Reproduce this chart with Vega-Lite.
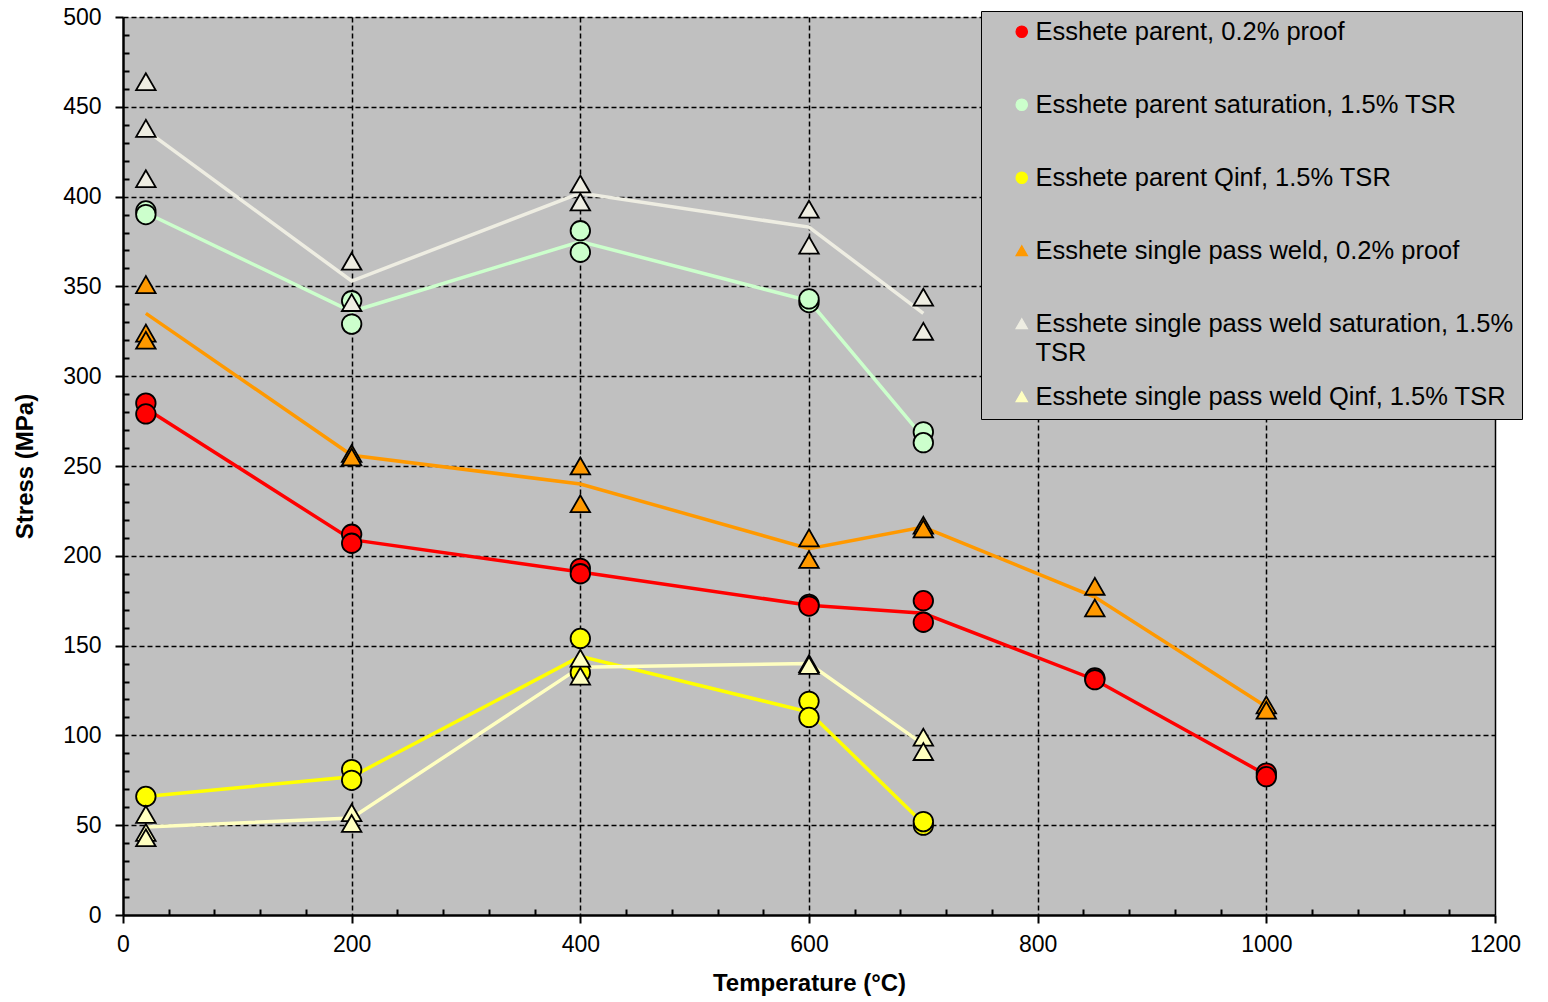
{
  "$schema": "https://vega.github.io/schema/vega-lite/v6.json",
  "width": 1372,
  "height": 898,
  "autosize": {"type": "none"},
  "padding": {"left": 123, "top": 17, "right": 53, "bottom": 87},
  "background": "white",
  "config": {
    "font": "Liberation Sans",
    "view": {"fill": "#C0C0C0", "stroke": null},
    "legend": {
      "orient": "none",
      "legendX": 858,
      "legendY": -6,
      "fillColor": "#C0C0C0",
      "strokeColor": "black",
      "padding": 8,
      "symbolOffset": 20,
      "symbolSize": 130,
      "symbolStrokeColor": "black",
      "symbolStrokeWidth": 1,
      "labelFont": "Liberation Sans",
      "labelFontSize": 25.5,
      "labelColor": "black",
      "labelOffset": 1,
      "labelLimit": 700,
      "rowPadding": 17,
      "gridAlign": "all"
    }
  },
  "datasets": {
    "obs": [
      {"s": "Esshete parent, 0.2% proof", "t": 20, "v": 285},
      {"s": "Esshete parent, 0.2% proof", "t": 20, "v": 279},
      {"s": "Esshete parent, 0.2% proof", "t": 200, "v": 212},
      {"s": "Esshete parent, 0.2% proof", "t": 200, "v": 207},
      {"s": "Esshete parent, 0.2% proof", "t": 400, "v": 193},
      {"s": "Esshete parent, 0.2% proof", "t": 400, "v": 190},
      {"s": "Esshete parent, 0.2% proof", "t": 600, "v": 173},
      {"s": "Esshete parent, 0.2% proof", "t": 600, "v": 172},
      {"s": "Esshete parent, 0.2% proof", "t": 700, "v": 175},
      {"s": "Esshete parent, 0.2% proof", "t": 700, "v": 163},
      {"s": "Esshete parent, 0.2% proof", "t": 850, "v": 132},
      {"s": "Esshete parent, 0.2% proof", "t": 850, "v": 131},
      {"s": "Esshete parent, 0.2% proof", "t": 1000, "v": 79},
      {"s": "Esshete parent, 0.2% proof", "t": 1000, "v": 77},
      {"s": "Esshete parent saturation, 1.5% TSR", "t": 20, "v": 392},
      {"s": "Esshete parent saturation, 1.5% TSR", "t": 20, "v": 390},
      {"s": "Esshete parent saturation, 1.5% TSR", "t": 200, "v": 342},
      {"s": "Esshete parent saturation, 1.5% TSR", "t": 200, "v": 329},
      {"s": "Esshete parent saturation, 1.5% TSR", "t": 400, "v": 381},
      {"s": "Esshete parent saturation, 1.5% TSR", "t": 400, "v": 369},
      {"s": "Esshete parent saturation, 1.5% TSR", "t": 600, "v": 341},
      {"s": "Esshete parent saturation, 1.5% TSR", "t": 600, "v": 343},
      {"s": "Esshete parent saturation, 1.5% TSR", "t": 700, "v": 269},
      {"s": "Esshete parent saturation, 1.5% TSR", "t": 700, "v": 263},
      {"s": "Esshete parent Qinf, 1.5% TSR", "t": 20, "v": 66},
      {"s": "Esshete parent Qinf, 1.5% TSR", "t": 200, "v": 81},
      {"s": "Esshete parent Qinf, 1.5% TSR", "t": 200, "v": 75},
      {"s": "Esshete parent Qinf, 1.5% TSR", "t": 400, "v": 154},
      {"s": "Esshete parent Qinf, 1.5% TSR", "t": 400, "v": 135},
      {"s": "Esshete parent Qinf, 1.5% TSR", "t": 600, "v": 119},
      {"s": "Esshete parent Qinf, 1.5% TSR", "t": 600, "v": 110},
      {"s": "Esshete parent Qinf, 1.5% TSR", "t": 700, "v": 50},
      {"s": "Esshete parent Qinf, 1.5% TSR", "t": 700, "v": 52},
      {"s": "Esshete single pass weld, 0.2% proof", "t": 20, "v": 351},
      {"s": "Esshete single pass weld, 0.2% proof", "t": 20, "v": 324},
      {"s": "Esshete single pass weld, 0.2% proof", "t": 20, "v": 320},
      {"s": "Esshete single pass weld, 0.2% proof", "t": 200, "v": 257},
      {"s": "Esshete single pass weld, 0.2% proof", "t": 200, "v": 255},
      {"s": "Esshete single pass weld, 0.2% proof", "t": 400, "v": 250},
      {"s": "Esshete single pass weld, 0.2% proof", "t": 400, "v": 229},
      {"s": "Esshete single pass weld, 0.2% proof", "t": 600, "v": 210},
      {"s": "Esshete single pass weld, 0.2% proof", "t": 600, "v": 198},
      {"s": "Esshete single pass weld, 0.2% proof", "t": 700, "v": 217},
      {"s": "Esshete single pass weld, 0.2% proof", "t": 700, "v": 215},
      {"s": "Esshete single pass weld, 0.2% proof", "t": 850, "v": 183},
      {"s": "Esshete single pass weld, 0.2% proof", "t": 850, "v": 171},
      {"s": "Esshete single pass weld, 0.2% proof", "t": 1000, "v": 117},
      {"s": "Esshete single pass weld, 0.2% proof", "t": 1000, "v": 114},
      {"s": "Esshete single pass weld saturation, 1.5% TSR", "t": 20, "v": 464},
      {"s": "Esshete single pass weld saturation, 1.5% TSR", "t": 20, "v": 438},
      {"s": "Esshete single pass weld saturation, 1.5% TSR", "t": 20, "v": 410},
      {"s": "Esshete single pass weld saturation, 1.5% TSR", "t": 200, "v": 364},
      {"s": "Esshete single pass weld saturation, 1.5% TSR", "t": 200, "v": 341},
      {"s": "Esshete single pass weld saturation, 1.5% TSR", "t": 400, "v": 407},
      {"s": "Esshete single pass weld saturation, 1.5% TSR", "t": 400, "v": 397},
      {"s": "Esshete single pass weld saturation, 1.5% TSR", "t": 600, "v": 393},
      {"s": "Esshete single pass weld saturation, 1.5% TSR", "t": 600, "v": 373},
      {"s": "Esshete single pass weld saturation, 1.5% TSR", "t": 700, "v": 344},
      {"s": "Esshete single pass weld saturation, 1.5% TSR", "t": 700, "v": 325},
      {"s": "Esshete single pass weld Qinf, 1.5% TSR", "t": 20, "v": 56},
      {"s": "Esshete single pass weld Qinf, 1.5% TSR", "t": 20, "v": 46},
      {"s": "Esshete single pass weld Qinf, 1.5% TSR", "t": 20, "v": 43},
      {"s": "Esshete single pass weld Qinf, 1.5% TSR", "t": 200, "v": 57},
      {"s": "Esshete single pass weld Qinf, 1.5% TSR", "t": 200, "v": 51},
      {"s": "Esshete single pass weld Qinf, 1.5% TSR", "t": 400, "v": 143},
      {"s": "Esshete single pass weld Qinf, 1.5% TSR", "t": 400, "v": 133},
      {"s": "Esshete single pass weld Qinf, 1.5% TSR", "t": 600, "v": 140},
      {"s": "Esshete single pass weld Qinf, 1.5% TSR", "t": 600, "v": 139},
      {"s": "Esshete single pass weld Qinf, 1.5% TSR", "t": 700, "v": 99},
      {"s": "Esshete single pass weld Qinf, 1.5% TSR", "t": 700, "v": 91}
    ],
    "trend": [
      {"s": "Esshete parent, 0.2% proof", "t": 20, "v": 282},
      {"s": "Esshete parent, 0.2% proof", "t": 200, "v": 209},
      {"s": "Esshete parent, 0.2% proof", "t": 400, "v": 191},
      {"s": "Esshete parent, 0.2% proof", "t": 600, "v": 172.5},
      {"s": "Esshete parent, 0.2% proof", "t": 700, "v": 168},
      {"s": "Esshete parent, 0.2% proof", "t": 850, "v": 131},
      {"s": "Esshete parent, 0.2% proof", "t": 1000, "v": 78},
      {"s": "Esshete parent saturation, 1.5% TSR", "t": 20, "v": 391},
      {"s": "Esshete parent saturation, 1.5% TSR", "t": 200, "v": 336},
      {"s": "Esshete parent saturation, 1.5% TSR", "t": 400, "v": 375},
      {"s": "Esshete parent saturation, 1.5% TSR", "t": 600, "v": 342},
      {"s": "Esshete parent saturation, 1.5% TSR", "t": 700, "v": 266},
      {"s": "Esshete parent Qinf, 1.5% TSR", "t": 20, "v": 66},
      {"s": "Esshete parent Qinf, 1.5% TSR", "t": 200, "v": 77},
      {"s": "Esshete parent Qinf, 1.5% TSR", "t": 400, "v": 144},
      {"s": "Esshete parent Qinf, 1.5% TSR", "t": 600, "v": 113},
      {"s": "Esshete parent Qinf, 1.5% TSR", "t": 700, "v": 51},
      {"s": "Esshete single pass weld, 0.2% proof", "t": 20, "v": 335},
      {"s": "Esshete single pass weld, 0.2% proof", "t": 200, "v": 256},
      {"s": "Esshete single pass weld, 0.2% proof", "t": 400, "v": 240},
      {"s": "Esshete single pass weld, 0.2% proof", "t": 600, "v": 204},
      {"s": "Esshete single pass weld, 0.2% proof", "t": 700, "v": 216},
      {"s": "Esshete single pass weld, 0.2% proof", "t": 850, "v": 177},
      {"s": "Esshete single pass weld, 0.2% proof", "t": 1000, "v": 116},
      {"s": "Esshete single pass weld saturation, 1.5% TSR", "t": 20, "v": 437},
      {"s": "Esshete single pass weld saturation, 1.5% TSR", "t": 200, "v": 353},
      {"s": "Esshete single pass weld saturation, 1.5% TSR", "t": 400, "v": 402},
      {"s": "Esshete single pass weld saturation, 1.5% TSR", "t": 600, "v": 383},
      {"s": "Esshete single pass weld saturation, 1.5% TSR", "t": 700, "v": 335},
      {"s": "Esshete single pass weld Qinf, 1.5% TSR", "t": 20, "v": 49},
      {"s": "Esshete single pass weld Qinf, 1.5% TSR", "t": 200, "v": 54},
      {"s": "Esshete single pass weld Qinf, 1.5% TSR", "t": 400, "v": 138},
      {"s": "Esshete single pass weld Qinf, 1.5% TSR", "t": 600, "v": 140},
      {"s": "Esshete single pass weld Qinf, 1.5% TSR", "t": 700, "v": 95}
    ]
  },
  "encoding": {
    "x": {
      "field": "t",
      "type": "quantitative",
      "scale": {"domain": [0, 1200], "nice": false, "zero": false},
      "axis": {
        "title": "Temperature (°C)",
        "titleFontSize": 24,
        "titleFontWeight": "bold",
        "titleColor": "black",
        "titlePadding": 15,
        "values": [0,40,80,120,160,200,240,280,320,360,400,440,480,520,560,600,640,680,720,760,800,840,880,920,960,1000,1040,1080,1120,1160,1200],
        "labelExpr": "datum.value % 200 === 0 ? datum.label : ''",
        "labelFontSize": 23,
        "labelColor": "black",
        "labelPadding": 10,
        "labelFlush": false,
        "labelOverlap": false,
        "format": "d",
        "domainColor": "black",
        "domainWidth": 2.5,
        "tickColor": "black",
        "tickWidth": 2,
        "tickSize": {"condition": {"test": "datum.value % 200 === 0", "value": 8}, "value": -6},
        "grid": true,
        "gridColor": "black",
        "gridWidth": 1.5,
        "gridDash": {"condition": {"test": "datum.value === 1200", "value": []}, "value": [5, 3]},
        "gridOpacity": {"condition": {"test": "datum.value % 200 === 0 && datum.value > 0", "value": 1}, "value": 0}
      }
    },
    "y": {
      "field": "v",
      "type": "quantitative",
      "scale": {"domain": [0, 500], "nice": false},
      "axis": {
        "title": "Stress (MPa)",
        "titleFontSize": 24,
        "titleFontWeight": "bold",
        "titleColor": "black",
        "titlePadding": 25,
        "values": [0,10,20,30,40,50,60,70,80,90,100,110,120,130,140,150,160,170,180,190,200,210,220,230,240,250,260,270,280,290,300,310,320,330,340,350,360,370,380,390,400,410,420,430,440,450,460,470,480,490,500],
        "labelExpr": "datum.value % 50 === 0 ? datum.label : ''",
        "labelFontSize": 23,
        "labelColor": "black",
        "labelPadding": 14,
        "labelFlush": false,
        "labelOverlap": false,
        "format": "d",
        "domainColor": "black",
        "domainWidth": 2.5,
        "tickColor": "black",
        "tickWidth": 2,
        "tickSize": {"condition": {"test": "datum.value % 50 === 0", "value": 8}, "value": -6},
        "grid": true,
        "gridColor": "black",
        "gridWidth": 1.5,
        "gridDash": [5, 3],
        "gridOpacity": {"condition": {"test": "datum.value % 50 === 0 && datum.value > 0", "value": 1}, "value": 0}
      }
    },
    "color": {
      "field": "s",
      "type": "nominal",
      "title": null,
      "scale": {
        "domain": ["Esshete parent, 0.2% proof", "Esshete parent saturation, 1.5% TSR", "Esshete parent Qinf, 1.5% TSR", "Esshete single pass weld, 0.2% proof", "Esshete single pass weld saturation, 1.5% TSR", "Esshete single pass weld Qinf, 1.5% TSR"],
        "range": ["#FF0000", "#CCFFCC", "#FFFF00", "#FF9900", "#EEEDE2", "#FFFFC0"]
      },
      "legend": {
        "title": null,
        "labelExpr": "datum.label === 'Esshete single pass weld saturation, 1.5% TSR' ? ['Esshete single pass weld saturation, 1.5%\u00a0\u00a0\u00a0\u00a0', 'TSR'] : datum.label",
        "encode": {
          "symbols": {"update": {
            "fill": {"scale": "color", "field": "value"},
            "stroke": {"value": "black"},
            "strokeWidth": {"value": 1.2},
            "size": {"value": 130},
            "opacity": {"value": 1}
          }},
          "labels": {"update": {
            "lineHeight": {"value": 29}
          }}
        }
      }
    }
  },
  "layer": [
    {
      "data": {"name": "trend"},
      "mark": {"type": "line", "strokeWidth": 3.5}
    },
    {
      "data": {"name": "obs"},
      "mark": {"type": "point", "filled": true, "opacity": 1, "stroke": "black", "strokeWidth": 1.8, "size": 380},
      "encoding": {
        "shape": {
          "field": "s",
          "type": "nominal",
          "title": null,
          "scale": {
            "domain": ["Esshete parent, 0.2% proof", "Esshete parent saturation, 1.5% TSR", "Esshete parent Qinf, 1.5% TSR", "Esshete single pass weld, 0.2% proof", "Esshete single pass weld saturation, 1.5% TSR", "Esshete single pass weld Qinf, 1.5% TSR"],
            "range": ["circle", "circle", "circle", "triangle-up", "triangle-up", "triangle-up"]
          },
          "legend": {
            "title": null,
            "labelExpr": "datum.label === 'Esshete single pass weld saturation, 1.5% TSR' ? ['Esshete single pass weld saturation, 1.5%\u00a0\u00a0\u00a0\u00a0', 'TSR'] : datum.label",
            "encode": {
              "symbols": {"update": {
                "fill": {"scale": "color", "field": "value"},
                "stroke": {"value": "black"},
                "strokeWidth": {"value": 1.2},
                "size": {"value": 130},
                "opacity": {"value": 1}
              }},
              "labels": {"update": {
                "lineHeight": {"value": 29}
              }}
            }
          }
        }
      }
    }
  ]
}
